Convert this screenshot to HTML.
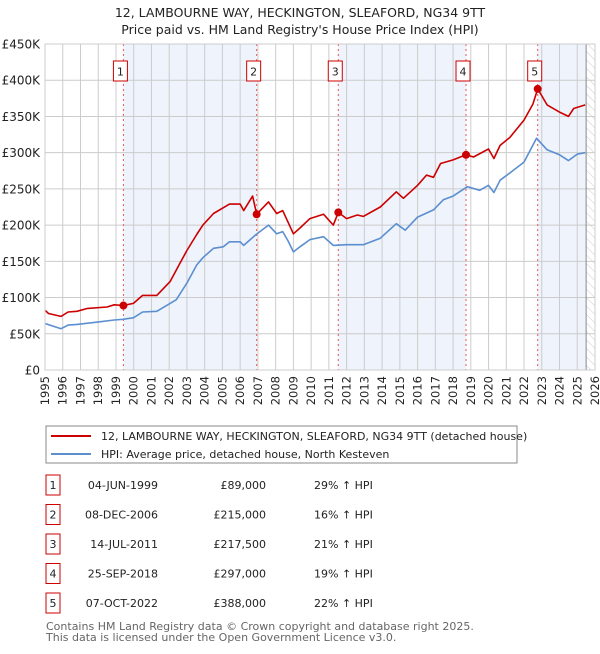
<!DOCTYPE html>
<html><head><meta charset="utf-8"><style>
body{margin:0;background:#fff;font-family:"DejaVu Sans","Liberation Sans",sans-serif;}
svg text{font-family:"DejaVu Sans","Liberation Sans",sans-serif;}
</style></head><body>
<svg id="chart" width="600" height="650" xmlns="http://www.w3.org/2000/svg">
<defs><pattern id="hatch" width="6" height="6" patternUnits="userSpaceOnUse" patternTransform="rotate(-45)"><line x1="0" y1="0" x2="0" y2="6" stroke="#ccc" stroke-width="1"/></pattern></defs>
<text x="300" y="17" text-anchor="middle" font-size="12.5" fill="#222">12, LAMBOURNE WAY, HECKINGTON, SLEAFORD, NG34 9TT</text>
<text x="300" y="34" text-anchor="middle" font-size="12.5" fill="#222">Price paid vs. HM Land Registry's House Price Index (HPI)</text>
<g id="plot"></g>
<g>
<rect x="46" y="426" width="471" height="37" fill="#fff" stroke="#888"/>
<line x1="51" y1="436" x2="91" y2="436" stroke="#cc0000" stroke-width="2"/>
<text x="101" y="440" font-size="11" fill="#222">12, LAMBOURNE WAY, HECKINGTON, SLEAFORD, NG34 9TT (detached house)</text>
<line x1="51" y1="454" x2="91" y2="454" stroke="#5b8fd0" stroke-width="2"/>
<text x="101" y="458" font-size="11" fill="#222">HPI: Average price, detached house, North Kesteven</text>
</g>
<g id="table"></g>
<text x="46" y="630" font-size="11" fill="#666">Contains HM Land Registry data © Crown copyright and database right 2025.</text>
<text x="46" y="641" font-size="11" fill="#666">This data is licensed under the Open Government Licence v3.0.</text>
</svg>
<script>
const hpiYears=[1995.02,1995.9,1996.3,1996.8,1997.9,1998.9,1999.4,1999.98,2000.5,2001.3,2002.05,2002.4,2003.0,2003.55,2003.9,2004.5,2005.05,2005.4,2006.0,2006.2,2006.9,2007.6,2008.06,2008.4,2008.7,2009.0,2009.37,2009.93,2010.7,2011.25,2012.0,2012.94,2013.9,2014.8,2015.3,2016.0,2016.9,2017.45,2018.0,2018.8,2019.5,2020.0,2020.3,2020.65,2021.2,2022.0,2022.7,2023.3,2024.0,2024.5,2025.0,2025.45];
const hpiValues=[64,57,62,63,66,69,70,72,80,81,92,97,120,145,155,168,170,177,177,172,187,200,188,191,178,163,170,180,184,172,173,173,182,202,193,211,221,235,240,253,248,255,245,262,272,287,320,304,297,289,298,300];
const priceYears=[1995.02,1995.2,1995.9,1996.3,1996.8,1997.4,1998.5,1998.9,1999.42,1999.98,2000.5,2001.3,2002.05,2002.6,2003.0,2003.55,2003.9,2004.5,2005.4,2006.0,2006.2,2006.7,2006.93,2007.6,2008.06,2008.4,2009.0,2009.37,2009.93,2010.7,2011.25,2011.53,2012.0,2012.6,2012.94,2013.9,2014.8,2015.2,2016.0,2016.5,2016.9,2017.3,2018.0,2018.73,2019.15,2020.0,2020.3,2020.65,2021.2,2022.0,2022.5,2022.77,2023.3,2024.0,2024.5,2024.8,2025.45];
const priceValues=[82,78,74,80,81,85,87,90,89,92,103,103,122,147,165,187,200,216,229,229,220,240,215,232,216,220,188,196,209,215,200,217.5,209,214,212,225,246,237,255,269,266,285,290,297,294,305,292,310,321,345,367,388,366,356,350,361,366];
const saleLabels=["1","2","3","4","5"];
const saleYears=[1999.42,2006.93,2011.53,2018.73,2022.77];
const saleValues=[89,215,217.5,297,388];
const saleDates=["04-JUN-1999","08-DEC-2006","14-JUL-2011","25-SEP-2018","07-OCT-2022"];
const salePrices=["£89,000","£215,000","£217,500","£297,000","£388,000"];
const salePcts=["29% ↑ HPI","16% ↑ HPI","21% ↑ HPI","19% ↑ HPI","22% ↑ HPI"];
const yTicks=[0,50,100,150,200,250,300,350,400,450];
const yTickLabels=["£0","£50K","£100K","£150K","£200K","£250K","£300K","£350K","£400K","£450K"];
const xTicks=[1995,1996,1997,1998,1999,2000,2001,2002,2003,2004,2005,2006,2007,2008,2009,2010,2011,2012,2013,2014,2015,2016,2017,2018,2019,2020,2021,2022,2023,2024,2025,2026];

const NS="http://www.w3.org/2000/svg";
const X0=45,X1=595,Y0=370,Y1=44;
const xS=y=>X0+(y-1995)/(2026-1995)*(X1-X0);
const yS=v=>Y0-v/450*(Y0-Y1);
const plot=document.getElementById('plot');
function mk(tag,attrs,parent){const e=document.createElementNS(NS,tag);for(const k in attrs)e.setAttribute(k,attrs[k]);(parent||plot).appendChild(e);return e;}

for(let i=0;i<saleYears.length;i+=2){
  const a=saleYears[i], b=i+1<saleYears.length?saleYears[i+1]:2025.5;
  const r=mk('rect',{x:xS(a),y:Y1,width:xS(b)-xS(a),height:Y0-Y1,fill:'#eef3fc'});
  
  
}
const hz=mk('rect',{x:xS(2025.5),y:Y1,width:X1-xS(2025.5),height:Y0-Y1,fill:'url(#hatch)'});


xTicks.forEach(t=>{
  const l=mk('line',{x1:xS(t),x2:xS(t),y1:Y1,y2:Y0,stroke:'#ccc','stroke-width':1});
  
  
  const tx=mk('text',{x:0,y:0,'font-size':11.5,fill:'#222','text-anchor':'end',transform:`translate(${xS(t)+4},${Y0+6}) rotate(-90)`});
  tx.textContent=t;
  
  
});
yTicks.forEach((t,i)=>{
  const l=mk('line',{x1:X0,x2:X1,y1:yS(t),y2:yS(t),stroke:'#ccc','stroke-width':1});
  
  
  const tx=mk('text',{x:40,y:yS(t)+4.5,'font-size':12,fill:'#222','text-anchor':'end'});
  tx.textContent=yTickLabels[i];
  
  
});
const el=mk('line',{x1:xS(2025.5),x2:xS(2025.5),y1:Y1,y2:Y0,stroke:'#888','stroke-width':1});


saleYears.forEach((s,i)=>{
  const l=mk('line',{x1:xS(s),x2:xS(s),y1:Y1,y2:Y0,stroke:'#e55','stroke-width':1,'stroke-dasharray':'2,3'});
  
  
  const bx=mk('rect',{x:xS(s)-10,y:61,width:14,height:20,fill:'#fff',stroke:'#c00','stroke-width':1});
  
  
  const t=mk('text',{x:xS(s)-3,y:75.5,'font-size':11,fill:'#222','text-anchor':'middle'});
  t.textContent=saleLabels[i];
  
  
});
function line(xs,vs,color,name){
  const d=xs.map((x,i)=>(i?'L':'M')+xS(x).toFixed(1)+','+yS(vs[i]).toFixed(1)).join('');
  const p=mk('path',{d:d,fill:'none',stroke:color,'stroke-width':1.6,'stroke-linejoin':'round'});
  
  
}
line(hpiYears,hpiValues,'#5b8fd0','hpi-line');
line(priceYears,priceValues,'#cc0000','price-line');
saleYears.forEach((s,i)=>{
  const c=mk('circle',{cx:xS(s),cy:yS(saleValues[i]),r:4,fill:'#cc0000'});
  
  
});
mk('rect',{x:X0,y:Y1,width:X1-X0,height:Y0-Y1,fill:'none',stroke:'#ccc'});
const tb=document.getElementById('table');
const rowY=[485,514.5,544,573.5,603];
saleLabels.forEach((lab,i)=>{
  const y=rowY[i];
  const b=mk('rect',{x:46,y:y-10,width:14,height:20,fill:'#fff',stroke:'#c00'},tb);
  
  
  const t1=mk('text',{x:53,y:y+4,'font-size':11,fill:'#222','text-anchor':'middle'},tb);t1.textContent=lab;
  
  
  const t2=mk('text',{x:158,y:y+4,'font-size':11,fill:'#222','text-anchor':'end'},tb);t2.textContent=saleDates[i];
  
  
  const t3=mk('text',{x:266,y:y+4,'font-size':11,fill:'#222','text-anchor':'end'},tb);t3.textContent=salePrices[i];
  
  
  const t4=mk('text',{x:314,y:y+4,'font-size':11,fill:'#222'},tb);t4.textContent=salePcts[i];
  
  
});
</script>
</body></html>
